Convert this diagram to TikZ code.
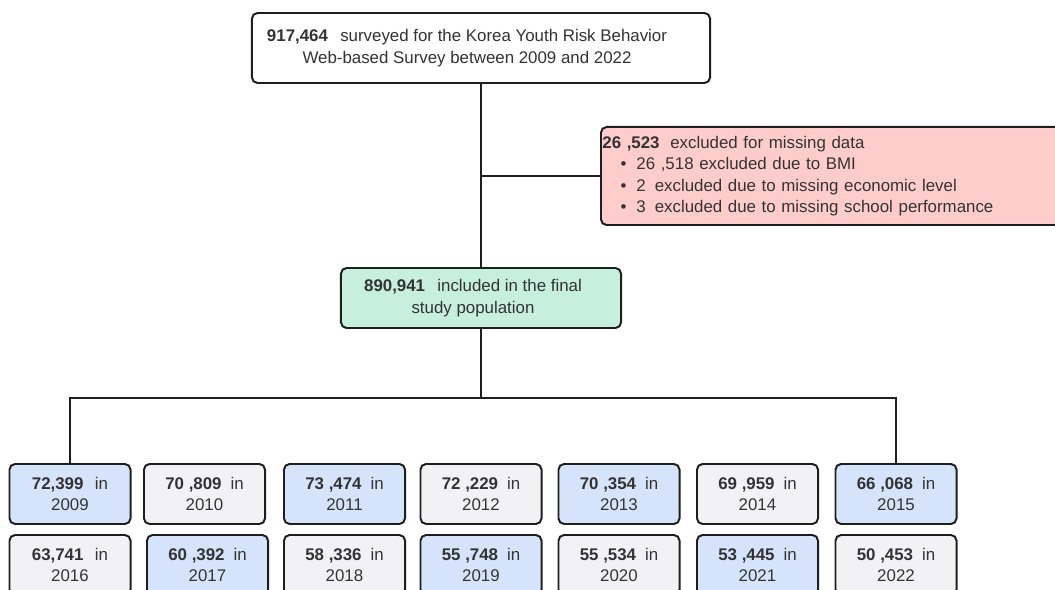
\documentclass[tikz,border=0pt]{standalone}
\usepackage{fontspec}
\setmainfont{Liberation Sans}
\usepackage{tikz}
\usetikzlibrary{calc}

\definecolor{linegray}{HTML}{1E1E1E}
\definecolor{txtgray}{HTML}{333333}
\definecolor{exclred}{HTML}{FFCCCC}
\definecolor{finalgreen}{HTML}{C6EFDE}
\definecolor{yearblue}{HTML}{D5E4FA}
\definecolor{yeargray}{HTML}{F2F2F5}

\begin{document}
\begin{tikzpicture}[x=0.025cm, y=-0.025cm,
  box/.style={draw=linegray, line width=1.4pt, rounded corners=4pt, text=txtgray, align=center, font=\fontsize{12}{15.3}\selectfont},
  yearbox/.style={box, minimum width=3.025cm, minimum height=1.5cm, inner sep=0pt},
  bluebox/.style={yearbox, fill=yearblue},
  graybox/.style={yearbox, fill=yeargray},
  conn/.style={draw=linegray, line width=1.4pt}]

  \clip (0,0) rectangle (1055,590);

  % Top and middle boxes
  \node[box, fill=white, minimum width=11.45cm, minimum height=1.75cm] (top) at (481,48)
    {\textbf{917,464}\hspace{0.45em} surveyed for the Korea Youth Risk Behavior\hspace*{0.7cm}\\Web-based Survey between 2009 and 2022\hspace*{0.7cm}};
  \node[box, fill=exclred, anchor=west, align=left, text width=11.5cm, minimum height=2.45cm, inner xsep=1pt] (excl) at (600,176)
    {\textbf{26 ,523}\hspace{0.3em} excluded for missing data\\
     \hspace*{13pt}\textbullet\hspace{7pt}26 ,518 excluded due to BMI\\
     \hspace*{13pt}\textbullet\hspace{7pt}2\hspace{0.2em} excluded due to missing economic level\\
     \hspace*{13pt}\textbullet\hspace{7pt}3\hspace{0.2em} excluded due to missing school performance};
  \node[box, fill=finalgreen, minimum width=7cm, minimum height=1.5cm] (final) at (481,298)
    {\textbf{890,941}\hspace{0.45em} included in the final\hspace*{0.4cm}\\study population\hspace*{0.4cm}};

  % First row
  \node[bluebox] (y2009) at (70,494) {\textbf{72,399}\hspace{0.4em} in\\2009};
  \node[graybox] (y2010) at (204.5,494) {\textbf{70 ,809}\hspace{0.25em} in\\2010};
  \node[bluebox] (y2011) at (344.5,494) {\textbf{73 ,474}\hspace{0.25em} in\\2011};
  \node[graybox] (y2012) at (481,494) {\textbf{72 ,229}\hspace{0.25em} in\\2012};
  \node[bluebox] (y2013) at (619,494) {\textbf{70 ,354}\hspace{0.25em} in\\2013};
  \node[graybox] (y2014) at (757.5,494) {\textbf{69 ,959}\hspace{0.25em} in\\2014};
  \node[bluebox] (y2015) at (896,494) {\textbf{66 ,068}\hspace{0.25em} in\\2015};

  % Second row
  \node[graybox] (y2016) at (70,565) {\textbf{63,741}\hspace{0.4em} in\\2016};
  \node[bluebox] (y2017) at (207.5,565) {\textbf{60 ,392}\hspace{0.25em} in\\2017};
  \node[graybox] (y2018) at (344.5,565) {\textbf{58 ,336}\hspace{0.25em} in\\2018};
  \node[bluebox] (y2019) at (481,565) {\textbf{55 ,748}\hspace{0.25em} in\\2019};
  \node[graybox] (y2020) at (619,565) {\textbf{55 ,534}\hspace{0.25em} in\\2020};
  \node[bluebox] (y2021) at (757.5,565) {\textbf{53 ,445}\hspace{0.25em} in\\2021};
  \node[graybox] (y2022) at (896,565) {\textbf{50 ,453}\hspace{0.25em} in\\2022};

  % Connectors
  \coordinate (split) at (481,398);
  \draw[conn] (top) -- (final);
  \draw[conn] (excl.west) -- (excl.west -| top.south);
  \draw[conn] (final) -- (split);
  \draw[conn] (y2009.north) -- (y2009.north |- split) -- (y2015.north |- split) -- (y2015.north);

\end{tikzpicture}
\end{document}
